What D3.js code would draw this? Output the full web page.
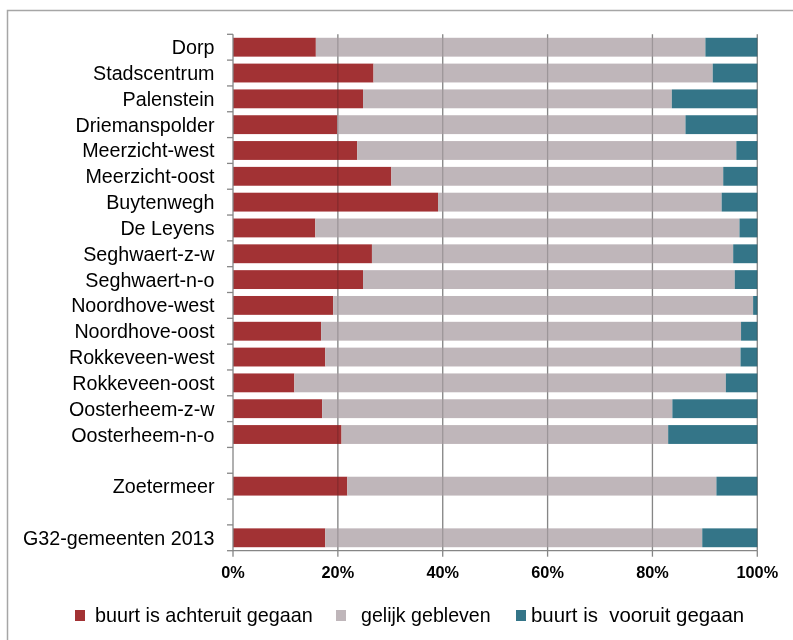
<!DOCTYPE html>
<html><head><meta charset="utf-8">
<script src="https://cdn.jsdelivr.net/npm/d3@7"></script>
<style>
html,body{margin:0;padding:0;background:#fff;}
svg{display:block;font-family:"Liberation Sans",Arial,sans-serif;}
text{white-space:pre;}
</style></head>
<body>
<svg id="chart" width="793" height="640"></svg>
<script>
const categories = ["Dorp","Stadscentrum","Palenstein","Driemanspolder","Meerzicht-west","Meerzicht-oost","Buytenwegh","De Leyens","Seghwaert-z-w","Seghwaert-n-o","Noordhove-west","Noordhove-oost","Rokkeveen-west","Rokkeveen-oost","Oosterheem-z-w","Oosterheem-n-o","","Zoetermeer","","G32-gemeenten 2013"];
const achteruit = [15.8,26.8,24.8,19.9,23.7,30.2,39.1,15.7,26.5,24.8,19.1,16.8,17.6,11.7,17.0,20.7,0,21.8,0,17.6];
const gelijk    = [74.3,64.7,58.9,66.4,72.3,63.3,54.1,80.9,68.9,70.9,80.1,80.1,79.2,82.3,66.8,62.3,0,70.4,0,71.9];
const vooruit   = [9.9,8.5,16.3,13.7,4.0,6.5,6.8,3.4,4.6,4.3,0.8,3.1,3.2,6.0,16.2,17.0,0,7.8,0,10.5];
const seriesNames = ["buurt is achteruit gegaan","gelijk gebleven","buurt is  vooruit gegaan"];
const seriesKeys = ["achteruit","gelijk","vooruit"];
const colors = ["#a23234","#bfb6ba","#347588"];
const xTicks = [0,20,40,60,80,100];

(function(){
const svg = d3.select("#chart");
svg.append("rect").attr("x",7.5).attr("y",10.5).attr("width",800).attr("height",650)
  .attr("fill","none").attr("stroke","#a6a6a6").attr("stroke-width",1.5);

const pLeft = 233, pRight = 757.3, pTop = 34.3, pBottom = 550.7;
const rows = categories.map((c,i)=>({id:"r"+i, name:c, achteruit:achteruit[i], gelijk:gelijk[i], vooruit:vooruit[i], empty: c===""}));

const x = d3.scaleLinear().domain([0,100]).range([pLeft,pRight]);
const y = d3.scaleBand().domain(rows.map(d=>d.id)).range([pTop,pBottom]).paddingInner(0.27).paddingOuter(0.135);

svg.append("g").selectAll("line").data(xTicks.slice(1)).join("line")
  .attr("x1",d=>x(d)).attr("x2",d=>x(d)).attr("y1",pTop).attr("y2",pBottom)
  .attr("stroke","#a3a3a3").attr("stroke-width",1.3);

const stacked = d3.stack().keys(seriesKeys)(rows.filter(d=>!d.empty));
svg.append("g").selectAll("g").data(stacked).join("g")
  .attr("fill",(d,i)=>colors[i])
  .selectAll("rect").data(d=>d).join("rect")
  .attr("x",d=>x(d[0])).attr("width",d=>x(d[1])-x(d[0]))
  .attr("y",d=>y(d.data.id)).attr("height",y.bandwidth());

svg.append("g").selectAll("line").data(xTicks.slice(1)).join("line")
  .attr("x1",d=>x(d)).attr("x2",d=>x(d)).attr("y1",pTop).attr("y2",pBottom)
  .attr("stroke","#d2d2d2").attr("stroke-width",1.3).style("mix-blend-mode","multiply");

const yAxis = svg.append("g").attr("transform",`translate(${pLeft},0)`);
yAxis.append("line").attr("x1",0).attr("x2",0).attr("y1",pTop).attr("y2",pBottom).attr("stroke","#868686").attr("stroke-width",1.3);
const bounds = rows.map(d=>y(d.id)-y.step()*y.paddingInner()/2).concat([pBottom]);
yAxis.selectAll("line.tk").data(bounds).join("line").attr("class","tk")
  .attr("x1",-6).attr("x2",0).attr("y1",d=>d).attr("y2",d=>d).attr("stroke","#868686").attr("stroke-width",1.3);
svg.append("g").selectAll("text").data(rows).join("text")
  .attr("x",214.5).attr("y",d=>y(d.id)+y.bandwidth()/2+7)
  .attr("text-anchor","end").attr("font-size",19.7).attr("fill","#000")
  .text(d=>d.name);

const xAxis = svg.append("g");
xAxis.append("line").attr("x1",pLeft).attr("x2",pRight).attr("y1",pBottom).attr("y2",pBottom).attr("stroke","#868686").attr("stroke-width",1.3);
xAxis.selectAll("line.tk").data(xTicks).join("line").attr("class","tk")
  .attr("x1",d=>x(d)).attr("x2",d=>x(d)).attr("y1",pBottom).attr("y2",pBottom+6).attr("stroke","#868686").attr("stroke-width",1.3);
xAxis.selectAll("text").data(xTicks).join("text")
  .attr("x",d=>x(d)).attr("y",578).attr("text-anchor","middle")
  .attr("font-size",16.3).attr("font-weight","bold").attr("fill","#000")
  .text(d=>d+"%");

const legendX = [75,336,516];
const legendTextX = [95,361,531];
const legendSize = [19.8,19.6,20.4];
const lg = svg.append("g");
seriesNames.forEach((n,i)=>{
  lg.append("rect").attr("x",legendX[i]).attr("y",610).attr("width",10).attr("height",11).attr("fill",colors[i]);
  lg.append("text").attr("x",legendTextX[i]).attr("y",622).attr("font-size",legendSize[i]).attr("fill","#000").text(n);
});
})();
</script>
</body></html>
